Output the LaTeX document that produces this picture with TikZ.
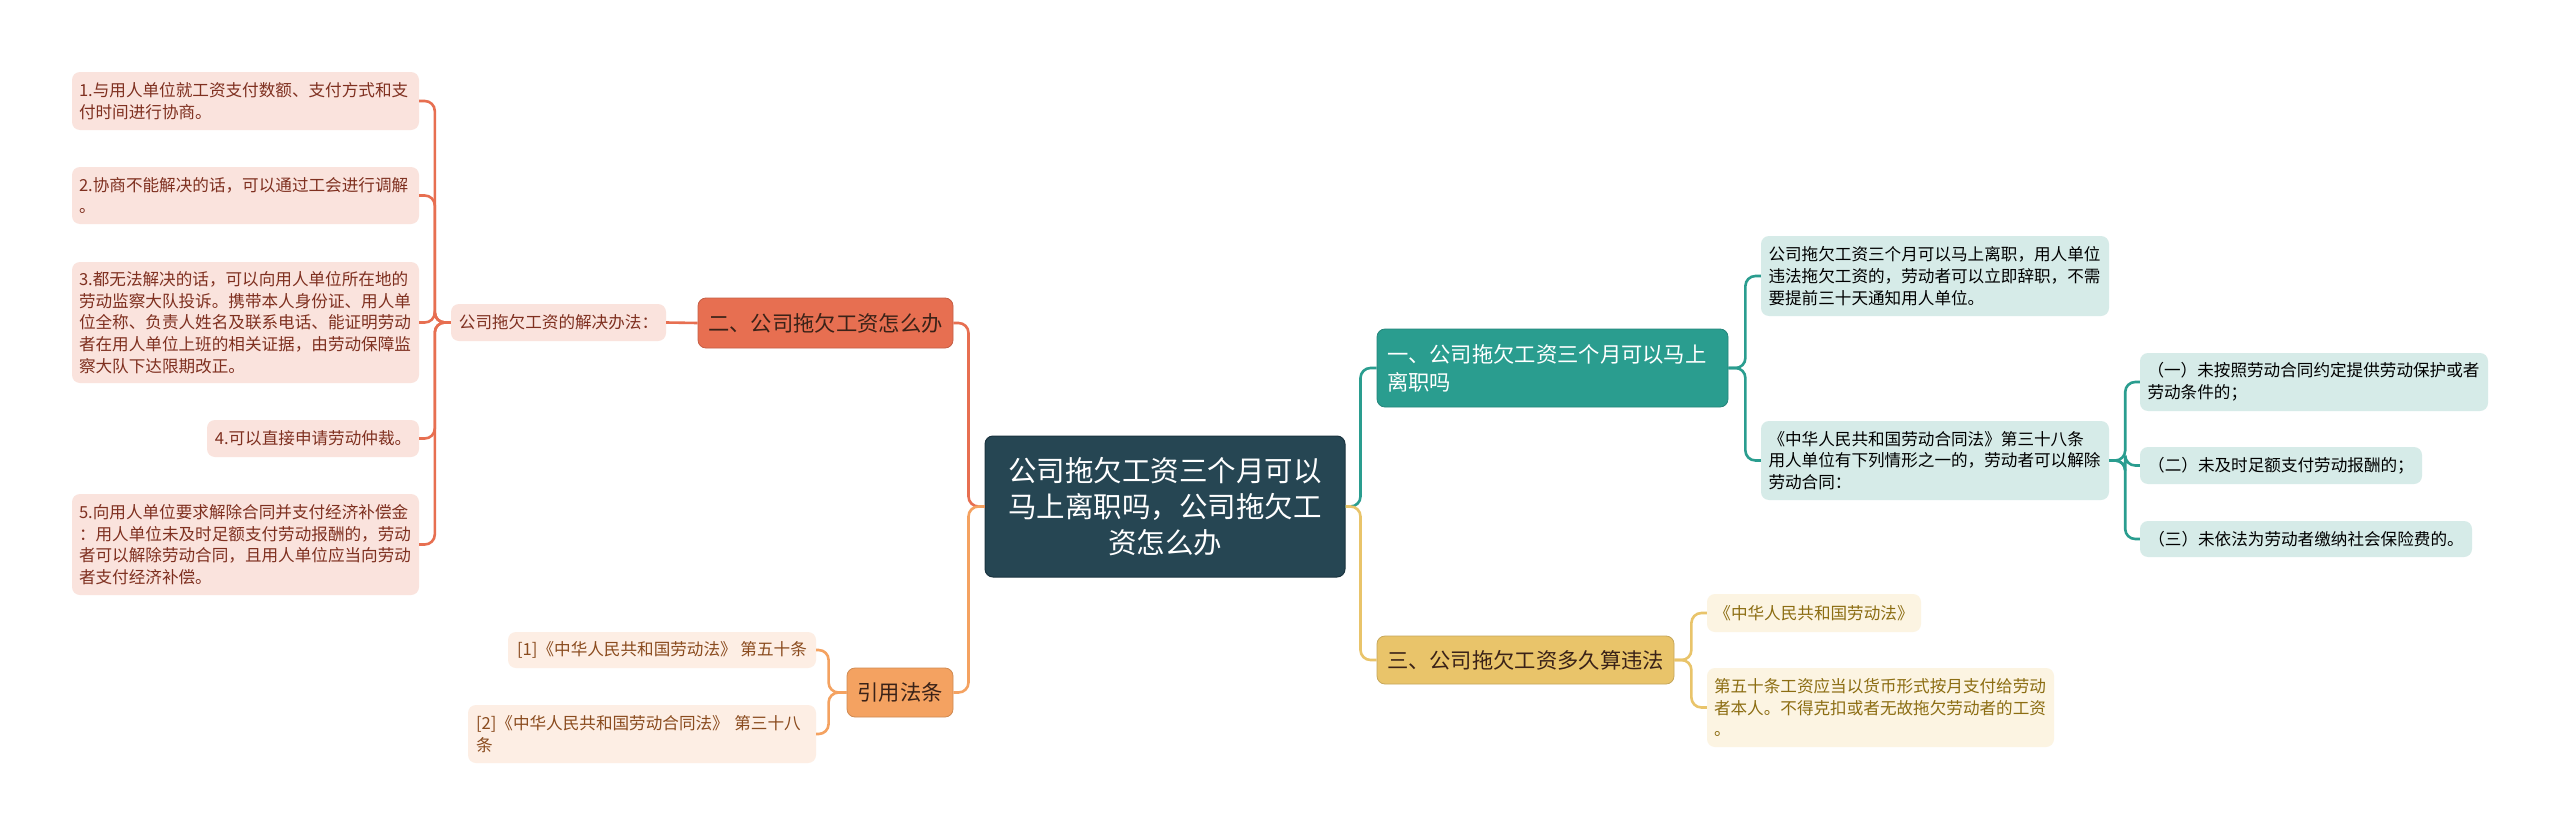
\documentclass[tikz,border=0pt]{standalone}
\usepackage{fontspec}
\setmainfont{Noto Sans CJK SC}
\usepackage{tikz}
\usepackage{xcolor}
\definecolor{Root_Slate}{HTML}{264653}
\definecolor{Root_Edge}{HTML}{1A3440}
\definecolor{Br_Teal}{HTML}{2A9D8F}
\definecolor{Br_Gold}{HTML}{E9C46A}
\definecolor{Br_Sand}{HTML}{F4A261}
\definecolor{Br_Coral}{HTML}{E76F51}
\definecolor{Leaf_Teal}{HTML}{D6EBE8}
\definecolor{Leaf_Gold}{HTML}{FCF4E2}
\definecolor{Leaf_Sand}{HTML}{FDEEE4}
\definecolor{Leaf_Coral}{HTML}{FAE3DD}
\definecolor{Ink_Coral}{HTML}{7F3020}
\definecolor{Ink_Sand}{HTML}{8A4B1E}
\definecolor{Ink_Gold}{HTML}{8C6D12}
\definecolor{Ink_Dark}{HTML}{3A2218}

\begin{document}
\begin{tikzpicture}[x=1pt, y=-1pt,
    box/.style={rectangle, rounded corners=8pt, inner sep=0pt},
    leaf/.style={box, font=\fontsize{16.6}{21.7}\selectfont, align=left},
    branch/.style={box, font=\fontsize{21.3}{28}\selectfont, draw=#1!85!black, line width=0.8pt, fill=#1},
    link/.style={line width=2.6pt, rounded corners=10pt}]
    \useasboundingbox (0,0) rectangle (2560,835);
    \fill[white] (0,0) rectangle (2560,835);

    % Central topic
    \node[box, fill=Root_Slate, draw=Root_Edge, line width=1pt, text=white, align=center,
          font=\fontsize{28.5}{36}\selectfont, minimum width=360pt, minimum height=141pt]
          (root) at (1165,506.5) {公司拖欠工资三个月可以\\马上离职吗，公司拖欠工\\资怎么办};

    % Main branches
    \node[branch=Br_Teal, text=white, align=left, text width=331pt,
          minimum width=351pt, minimum height=78pt] (b1) at (1552.5,368)
          {一、公司拖欠工资三个月可以马上\\离职吗};
    \node[branch=Br_Coral, text=Ink_Dark, minimum width=255pt, minimum height=50pt]
          (b2) at (825.5,323) {二、公司拖欠工资怎么办};
    \node[branch=Br_Gold, text=Ink_Dark, minimum width=297pt, minimum height=48pt]
          (b3) at (1525.5,660) {三、公司拖欠工资多久算违法};
    \node[branch=Br_Sand, text=Ink_Dark, minimum width=106pt, minimum height=49pt]
          (bref) at (900,692.5) {引用法条};

    % Branch one leaves
    \node[leaf, fill=Leaf_Teal, text width=333pt, minimum width=348pt, minimum height=80pt]
          (t1) at (1935,276) {公司拖欠工资三个月可以马上离职，用人单位\\违法拖欠工资的，劳动者可以立即辞职，不需\\要提前三十天通知用人单位。};
    \node[leaf, fill=Leaf_Teal, text width=333pt, minimum width=348pt, minimum height=79pt]
          (t2) at (1935,460.5) {《中华人民共和国劳动合同法》第三十八条\\用人单位有下列情形之一的，劳动者可以解除\\劳动合同：};
    \node[leaf, fill=Leaf_Teal, text width=333pt, minimum width=348pt, minimum height=58pt]
          (s1) at (2314,382) {（一）未按照劳动合同约定提供劳动保护或者\\劳动条件的；};
    \node[leaf, fill=Leaf_Teal, minimum width=282pt, minimum height=37pt]
          (s2) at (2281,465.5) {（二）未及时足额支付劳动报酬的；};
    \node[leaf, fill=Leaf_Teal, minimum width=332pt, minimum height=36pt]
          (s3) at (2306,539) {（三）未依法为劳动者缴纳社会保险费的。};

    % Branch two leaves
    \node[leaf, fill=Leaf_Coral, text=Ink_Coral, minimum width=215pt, minimum height=37pt]
          (sol) at (558.5,322.5) {公司拖欠工资的解决办法：};
    \node[leaf, fill=Leaf_Coral, text=Ink_Coral, text width=333pt, minimum width=347pt, minimum height=58pt]
          (p1) at (245.5,101) {1.与用人单位就工资支付数额、支付方式和支\\付时间进行协商。};
    \node[leaf, fill=Leaf_Coral, text=Ink_Coral, text width=333pt, minimum width=347pt, minimum height=57pt]
          (p2) at (245.5,195.5) {2.协商不能解决的话，可以通过工会进行调解\\。};
    \node[leaf, fill=Leaf_Coral, text=Ink_Coral, text width=333pt, minimum width=347pt, minimum height=121pt]
          (p3) at (245.5,322.5) {3.都无法解决的话，可以向用人单位所在地的\\劳动监察大队投诉。携带本人身份证、用人单\\位全称、负责人姓名及联系电话、能证明劳动\\者在用人单位上班的相关证据，由劳动保障监\\察大队下达限期改正。};
    \node[leaf, fill=Leaf_Coral, text=Ink_Coral, minimum width=212pt, minimum height=37pt]
          (p4) at (313,438.5) {4.可以直接申请劳动仲裁。};
    \node[leaf, fill=Leaf_Coral, text=Ink_Coral, text width=333pt, minimum width=347pt, minimum height=101pt]
          (p5) at (245.5,544.5) {5.向用人单位要求解除合同并支付经济补偿金\\：用人单位未及时足额支付劳动报酬的，劳动\\者可以解除劳动合同，且用人单位应当向劳动\\者支付经济补偿。};

    % Branch three leaves
    \node[leaf, fill=Leaf_Gold, text=Ink_Gold, minimum width=214pt, minimum height=38pt]
          (y1) at (1814,613) {《中华人民共和国劳动法》};
    \node[leaf, fill=Leaf_Gold, text=Ink_Gold, text width=333pt, minimum width=347pt, minimum height=79pt]
          (y2) at (1880.5,707.5) {第五十条工资应当以货币形式按月支付给劳动\\者本人。不得克扣或者无故拖欠劳动者的工资\\。};

    % Cited laws
    \node[leaf, fill=Leaf_Sand, text=Ink_Sand, minimum width=308pt, minimum height=36pt]
          (r1) at (662,650) {[1]《中华人民共和国劳动法》 第五十条};
    \node[leaf, fill=Leaf_Sand, text=Ink_Sand, text width=332pt, minimum width=348pt, minimum height=58pt]
          (r2) at (642,734) {[2]《中华人民共和国劳动合同法》 第三十八\\条};

    % Links on the left
    \draw[link, Br_Coral] (root.west) -- ++(-16,0) |- (b2.east);
    \draw[link, Br_Sand] (root.west) -- ++(-16,0) |- (bref.east);
    \draw[link, Br_Coral] (b2.west) -- (sol.east);
    \foreach \k in {p1,p2,p3,p4,p5}
        \draw[link, Br_Coral] (sol.west) -- ++(-16,0) |- (\k.east);
    \foreach \k in {r1,r2}
        \draw[link, Br_Sand] (bref.west) -- ++(-18,0) |- (\k.east);

    % Links on the right
    \draw[link, Br_Teal] (root.east) -- ++(15,0) |- (b1.west);
    \draw[link, Br_Gold] (root.east) -- ++(15,0) |- (b3.west);
    \foreach \k in {t1,t2}
        \draw[link, Br_Teal] (b1.east) -- ++(17,0) |- (\k.west);
    \foreach \k in {s1,s2,s3}
        \draw[link, Br_Teal] (t2.east) -- ++(16,0) |- (\k.west);
    \foreach \k in {y1,y2}
        \draw[link, Br_Gold] (b3.east) -- ++(17,0) |- (\k.west);
\end{tikzpicture}
\end{document}
